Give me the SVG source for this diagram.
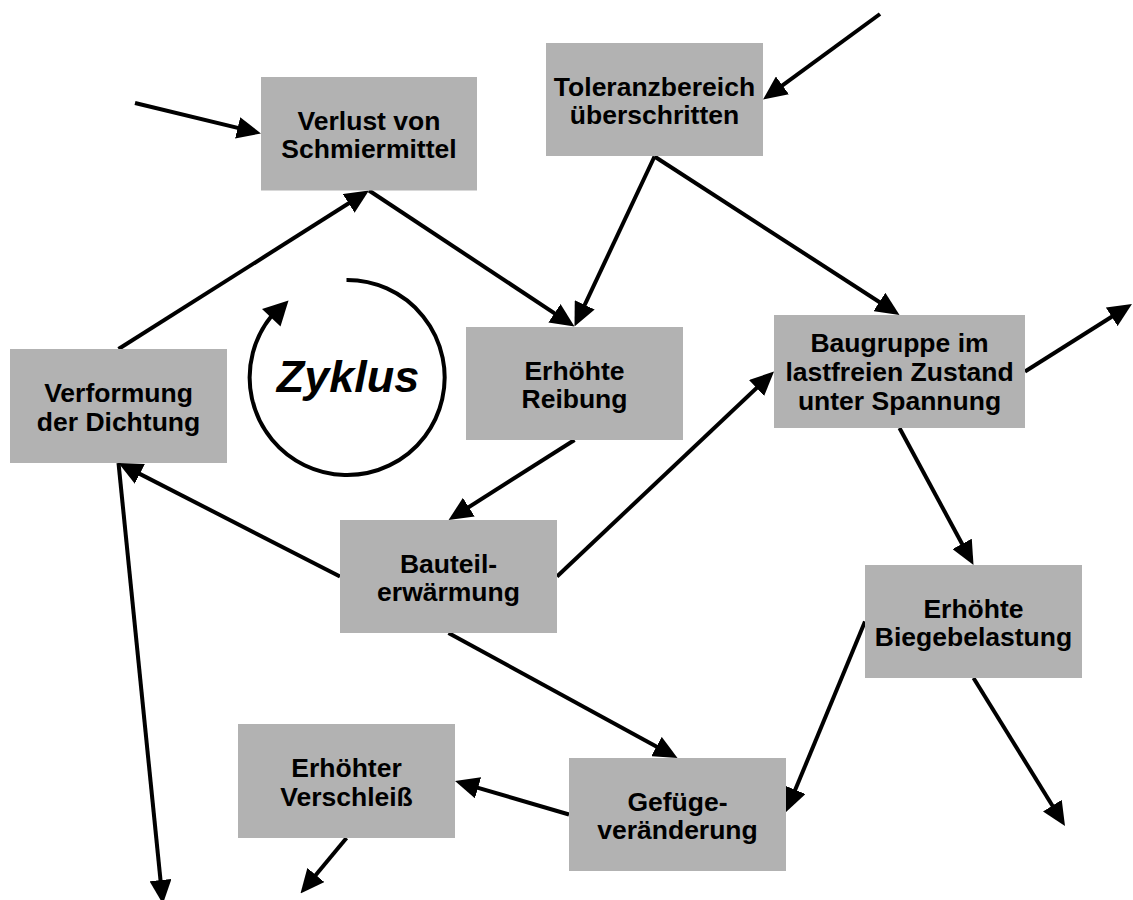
<svg xmlns="http://www.w3.org/2000/svg" width="1133" height="900" viewBox="0 0 1133 900">
  <style>
    .box { fill: #b2b2b2; }
    .lbl { font-family: "Liberation Sans", Arial, sans-serif; font-size: 26.5px; font-weight: bold; fill: #000; text-anchor: middle; }
    .edge { stroke: #000; stroke-width: 4; fill: none; marker-end: url(#head); }
    .cycle { font-family: "Liberation Sans", Arial, sans-serif; font-size: 45px; font-weight: bold; font-style: italic; fill: #000; text-anchor: middle; }
  </style>
  <defs>
    <marker id="head" markerUnits="userSpaceOnUse" markerWidth="24" markerHeight="22" refX="16" refY="11" orient="auto" viewBox="0 0 24 22">
      <path d="M0,0 L24,11 L0,22 z" fill="#000"/>
    </marker>
  </defs>

  <rect width="1133" height="900" fill="#fff"/>

  <!-- connectors -->
  <g id="connectors">
    <line class="edge" x1="880" y1="14" x2="769.5" y2="94.8"/>
    <line class="edge" x1="135" y1="103" x2="253.2" y2="131.6"/>
    <line class="edge" x1="118.5" y1="349" x2="362.2" y2="194.8"/>
    <line class="edge" x1="369" y1="190.5" x2="567.8" y2="322.1"/>
    <line class="edge" x1="654.5" y1="156.5" x2="577.9" y2="319.3"/>
    <line class="edge" x1="654.5" y1="156.5" x2="892.8" y2="310.7"/>
    <line class="edge" x1="1025" y1="371.5" x2="1125.2" y2="308.3"/>
    <line class="edge" x1="574.5" y1="440" x2="455.3" y2="515.7"/>
    <line class="edge" x1="340" y1="576.5" x2="125.6" y2="466.6"/>
    <line class="edge" x1="557" y1="576.5" x2="768.2" y2="377"/>
    <line class="edge" x1="118.5" y1="463" x2="162.1" y2="896"/>
    <line class="edge" x1="448.5" y1="633" x2="670.5" y2="754.2"/>
    <line class="edge" x1="899.5" y1="428" x2="969.7" y2="558"/>
    <line class="edge" x1="865" y1="621.5" x2="789.1" y2="804.6"/>
    <line class="edge" x1="973.5" y1="678" x2="1060.8" y2="819.2"/>
    <line class="edge" x1="569" y1="814.5" x2="462.7" y2="783.3"/>
    <line class="edge" x1="346.5" y1="838" x2="305.6" y2="887.3"/>
  </g>

  <!-- cycle symbol -->
  <g id="cycle">
    <path d="M346.5,280 A97.5,97.5 0 1 1 271.5,316" fill="none" stroke="#000" stroke-width="4"/>
    <polygon points="288.5,300.5 262,309 280.5,326.5" fill="#000"/>
    <text class="cycle" x="348" y="392">Zyklus</text>
  </g>

  <g id="toleranz">
    <rect class="box" x="546" y="43" width="217" height="113"/>
    <text class="lbl" x="654.5" y="95.5">Toleranzbereich</text>
    <text class="lbl" x="654.5" y="124">überschritten</text>
  </g>
  <g id="verlust">
    <rect class="box" x="261" y="77" width="216" height="113.5"/>
    <text class="lbl" x="369" y="129.5">Verlust von</text>
    <text class="lbl" x="369" y="158">Schmiermittel</text>
  </g>
  <g id="verformung">
    <rect class="box" x="10" y="349" width="217" height="114"/>
    <text class="lbl" x="118.5" y="402">Verformung</text>
    <text class="lbl" x="118.5" y="430.5">der Dichtung</text>
  </g>
  <g id="reibung">
    <rect class="box" x="466" y="327" width="217" height="113"/>
    <text class="lbl" x="574.5" y="379.5">Erhöhte</text>
    <text class="lbl" x="574.5" y="408">Reibung</text>
  </g>
  <g id="baugruppe">
    <rect class="box" x="774" y="315" width="251" height="113"/>
    <text class="lbl" x="899.5" y="352">Baugruppe im</text>
    <text class="lbl" x="899.5" y="381">lastfreien Zustand</text>
    <text class="lbl" x="899.5" y="410">unter Spannung</text>
  </g>
  <g id="bauteil">
    <rect class="box" x="340" y="520" width="217" height="113"/>
    <text class="lbl" x="448.5" y="572.5">Bauteil-</text>
    <text class="lbl" x="448.5" y="601">erwärmung</text>
  </g>
  <g id="biege">
    <rect class="box" x="865" y="565" width="217" height="113"/>
    <text class="lbl" x="973.5" y="617.5">Erhöhte</text>
    <text class="lbl" x="973.5" y="646">Biegebelastung</text>
  </g>
  <g id="gefuege">
    <rect class="box" x="569" y="758" width="217" height="113"/>
    <text class="lbl" x="677.5" y="810.5">Gefüge-</text>
    <text class="lbl" x="677.5" y="839">veränderung</text>
  </g>
  <g id="verschleiss">
    <rect class="box" x="238" y="724" width="217" height="114"/>
    <text class="lbl" x="346.5" y="777">Erhöhter</text>
    <text class="lbl" x="346.5" y="805.5">Verschleiß</text>
  </g>
</svg>
